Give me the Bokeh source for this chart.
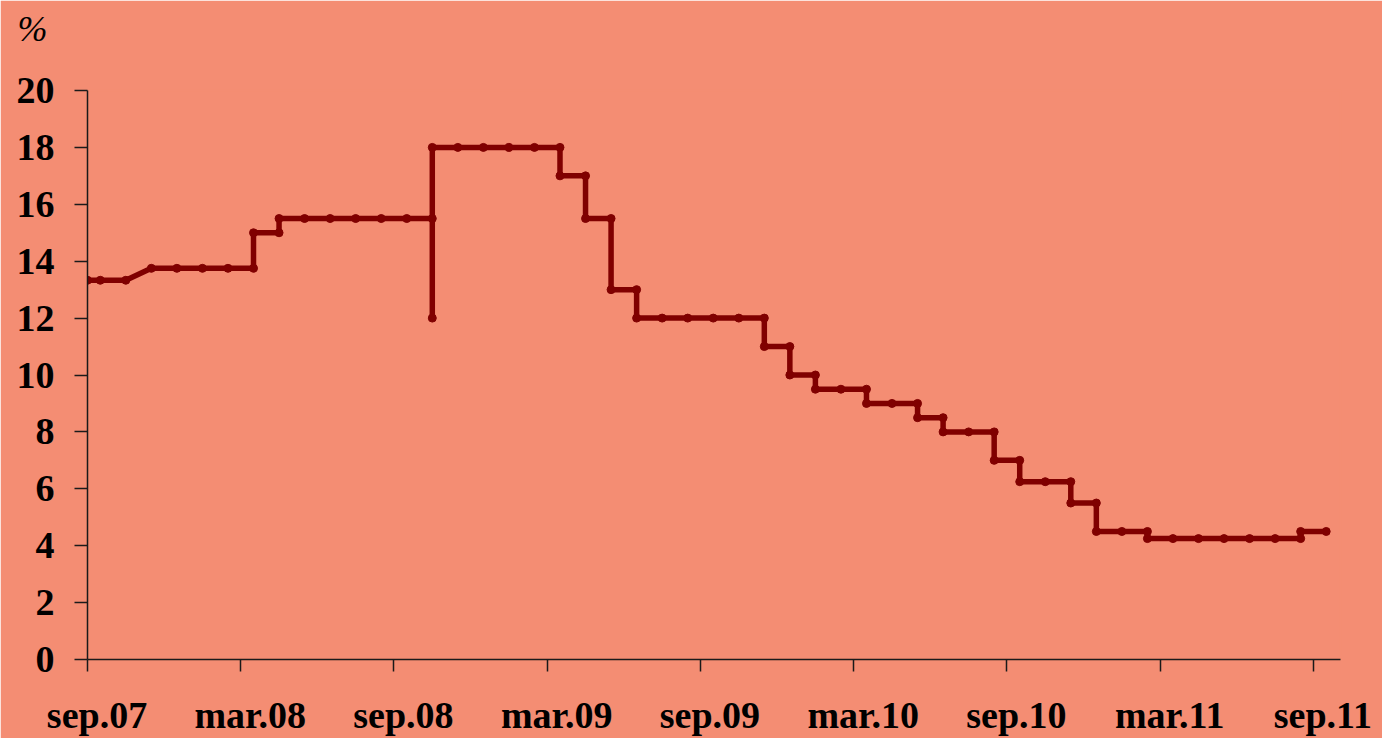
from bokeh.plotting import figure
from bokeh.models import Range1d, FixedTicker, Title
from bokeh.embed import file_html
from bokeh.resources import INLINE

# months since Sep 2007 (mid-month observations; repeated positions mark step changes)
months = [0, 0.5, 1.5, 2.5, 3.5, 4.5, 5.5, 6.5, 6.5, 7.5, 7.5, 8.5, 9.5, 10.5, 11.5, 12.5,
          13.5, 13.5, 13.5, 14.5, 15.5, 16.5, 17.5, 18.5, 18.5, 19.5, 19.5, 20.5, 20.5,
          21.5, 21.5, 22.5, 23.5, 24.5, 25.5, 26.5, 26.5, 27.5, 27.5, 28.5, 28.5, 29.5,
          30.5, 30.5, 31.5, 32.5, 32.5, 33.5, 33.5, 34.5, 35.5, 35.5, 36.5, 36.5, 37.5,
          38.5, 38.5, 39.5, 39.5, 40.5, 41.5, 41.5, 42.5, 43.5, 44.5, 45.5, 46.5, 47.5,
          47.5, 48.5]
rates = [13.33, 13.33, 13.33, 13.75, 13.75, 13.75, 13.75, 13.75, 15.0, 15.0, 15.5, 15.5, 15.5,
         15.5, 15.5, 15.5, 15.5, 12.0, 18.0, 18.0, 18.0, 18.0, 18.0, 18.0, 17.0, 17.0, 15.5,
         15.5, 13.0, 13.0, 12.0, 12.0, 12.0, 12.0, 12.0, 12.0, 11.0, 11.0, 10.0, 10.0, 9.5,
         9.5, 9.5, 9.0, 9.0, 9.0, 8.5, 8.5, 8.0, 8.0, 8.0, 7.0, 7.0, 6.25, 6.25, 6.25, 5.5,
         5.5, 4.5, 4.5, 4.5, 4.25, 4.25, 4.25, 4.25, 4.25, 4.25, 4.25, 4.5, 4.5]

tick_months = [0, 6, 12, 18, 24, 30, 36, 42, 48]
tick_labels = ["sep.07", "mar.08", "sep.08", "mar.09", "sep.09", "mar.10", "sep.10", "mar.11", "sep.11"]
y_ticks = [0, 2, 4, 6, 8, 10, 12, 14, 16, 18, 20]
unit_label = "%"

BG = "#F48D73"
LINE = "#800000"
FONT = "Liberation Serif"
PAD = "\u00a0\u00a0"  # labels sit slightly right of their ticks in the reference

p = figure(width=1382, height=738, output_backend="svg", toolbar_location=None,
           x_range=Range1d(0, 49.06), y_range=Range1d(0, 20),
           min_border_left=87, min_border_right=42, min_border_top=90, min_border_bottom=79)
p.background_fill_color = BG
p.border_fill_color = BG
p.outline_line_color = BG
p.outline_line_width = 2
p.xgrid.visible = False
p.ygrid.visible = False

p.line(months, rates, line_width=5.5, color=LINE, line_join="round", line_cap="round")
p.scatter(months, rates, size=8, color=LINE)

for ax in (p.xaxis[0], p.yaxis[0]):
    ax.axis_line_color = "#1a1a1a"
    ax.axis_line_width = 1.5
    ax.major_tick_line_color = "#1a1a1a"
    ax.major_tick_line_width = 1.5
    ax.major_tick_in = 0
    ax.minor_tick_line_color = None
    ax.major_label_text_font = FONT
    ax.major_label_text_font_style = "bold"
    ax.major_label_text_font_size = "38px"
    ax.major_label_text_color = "black"

p.xaxis.ticker = FixedTicker(ticks=tick_months)
p.xaxis.major_label_overrides = {m: PAD + l for m, l in zip(tick_months, tick_labels)}
p.xaxis.major_tick_out = 12
p.xaxis.major_label_standoff = 22

p.yaxis.ticker = FixedTicker(ticks=y_ticks)
p.yaxis.major_tick_out = 13
p.yaxis.major_label_standoff = 20

# spacer (innermost) so that the unit label sits near the top edge
spacer = Title(text=" ", text_font=FONT, text_font_size="36px", standoff=0,
               text_color=BG, align="left")
p.add_layout(spacer, "above")
unit = Title(text=unit_label, text_font=FONT, text_font_style="italic", text_font_size="36px",
             text_color="black", align="left", offset=-70, standoff=0)
p.add_layout(unit, "above")

open("out.html", "w").write(file_html(p, INLINE))
